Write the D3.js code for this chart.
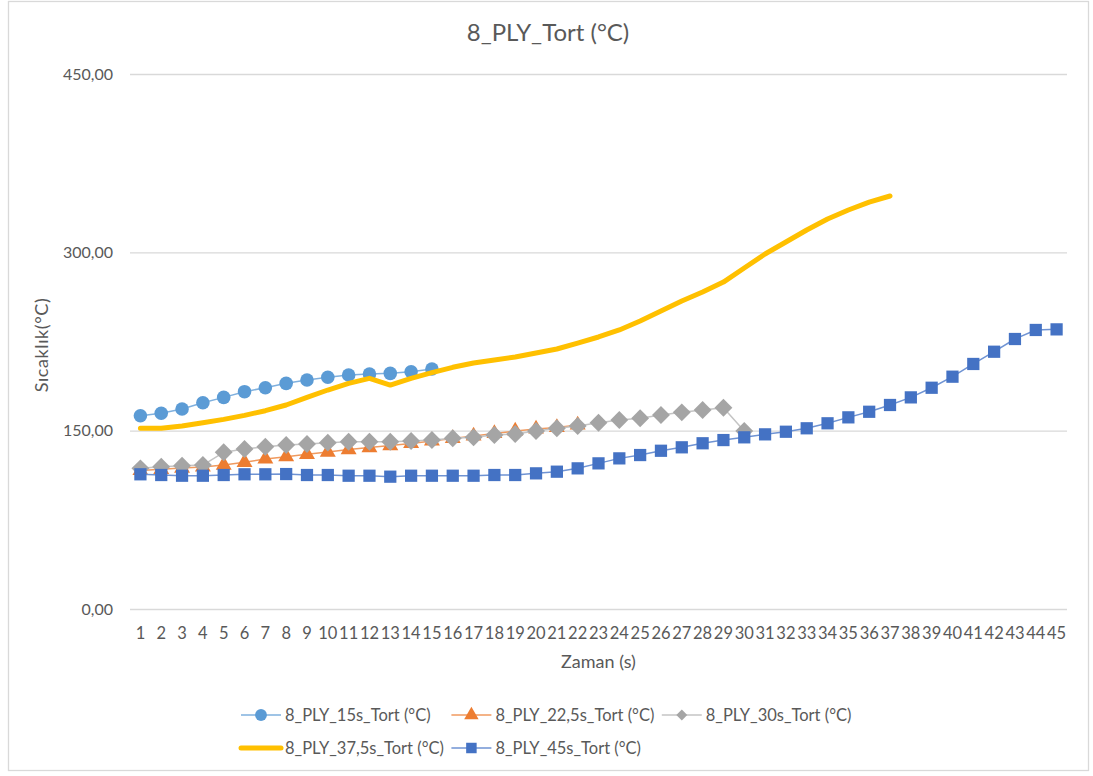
<!DOCTYPE html>
<meta charset="utf-8">
<style>
body { margin: 0; background: #fff; }
text { font-family: Lato, "Liberation Sans", sans-serif; fill: #595959; }
.grid line { stroke: #d9d9d9; stroke-width: 1.3px; }
</style>
<body>
<script src="https://d3js.org/d3.v7.min.js"></script>
<script>

// category labels on the x axis (time, s)
var categories = [1,2,3,4,5,6,7,8,9,10,11,12,13,14,15,16,17,18,19,20,21,22,23,24,25,
  26,27,28,29,30,31,32,33,34,35,36,37,38,39,40,41,42,43,44,45];
var yTicks = [0, 150, 300, 450];

// series values
var s15 = [162.6,164.6,168.2,173.5,178.0,182.8,186.1,189.8,192.6,194.9,196.8,197.6,198.2,199.6,201.9];
var s22 = [116.5,117.5,118.5,119.5,121.1,123.4,126.2,128.1,130.1,132.0,134.1,135.8,137.5,139.2,141.3,
  143.4,145.5,147.6,149.7,151.4,152.7,154.8];
var s30 = [118.3,119.7,120.5,121.1,131.8,134.6,136.5,137.9,138.8,139.9,140.7,140.7,140.7,141.3,142.1,
  143.6,144.4,146.3,147.2,149.7,152.0,153.9,156.7,159.0,160.4,163.2,165.4,167.4,169.3,149.7];
var s37 = [152.0,152.0,153.9,156.7,159.5,162.9,166.8,171.6,178.0,184.2,189.8,194.0,188.4,194.0,198.8,
  203.3,206.9,209.4,212.0,215.3,218.7,223.7,228.8,234.7,242.2,250.6,259.0,266.6,275.0,286.8,
  298.6,308.7,318.8,328.0,335.6,342.3,347.4];
var s45 = [113.3,112.7,112.1,112.1,112.7,113.3,113.3,113.5,112.7,112.7,112.1,112.1,111.3,112.1,112.1,
  112.1,112.1,112.7,112.7,114.1,115.5,118.3,122.5,126.7,129.5,133.1,136.0,139.4,142.1,144.4,
  146.9,149.1,152.0,156.2,161.2,165.9,171.6,178.0,186.1,195.4,206.1,216.4,227.1,234.7,235.2];

var seriesNames = ["8_PLY_15s_Tort (°C)", "8_PLY_22,5s_Tort (°C)", "8_PLY_30s_Tort (°C)",
  "8_PLY_37,5s_Tort (°C)", "8_PLY_45s_Tort (°C)"];

var series = [
  {name: seriesNames[0], values: s15, color: "#5b9bd5", line: "#7fb0de", width: 1.5, marker: "circle"},
  {name: seriesNames[1], values: s22, color: "#ed7d31", line: "#f09a5f", width: 1.5, marker: "triangle"},
  {name: seriesNames[2], values: s30, color: "#a5a5a5", line: "#c4c4c4", width: 1.5, marker: "diamond"},
  {name: seriesNames[3], values: s37, color: "#ffc000", line: "#ffc000", width: 5, marker: null},
  {name: seriesNames[4], values: s45, color: "#4472c4", line: "#6f93d3", width: 1.5, marker: "square"}
];

var W = 1093, H = 776;
var plot = {left: 130, right: 1067, top: 74, bottom: 609};

var svg = d3.select("body").append("svg")
    .attr("width", W)
    .attr("height", H);

// chart border
svg.append("rect")
    .attr("x", 8.5).attr("y", 1.5)
    .attr("width", 1080).attr("height", 769)
    .attr("fill", "#fff")
    .attr("stroke", "#d9d9d9")
    .attr("stroke-width", 1.3);

var x = d3.scaleBand().domain(categories).range([plot.left, plot.right]);
var y = d3.scaleLinear().domain([0, 450]).range([plot.bottom, plot.top]);
var cx = function(i) { return x(categories[i]) + x.bandwidth() / 2; };

var fmt = d3.formatLocale({decimal: ",", thousands: ".", grouping: [3], currency: ["", ""]}).format(".2f");

// y axis + gridlines
var gy = svg.append("g")
    .attr("class", "grid")
    .attr("transform", "translate(" + plot.left + ",0)")
    .call(d3.axisLeft(y).tickValues(yTicks).tickFormat(fmt)
      .tickSize(-(plot.right - plot.left)).tickPadding(17));
gy.select(".domain").remove();
gy.selectAll("text").attr("font-size", 16).style("fill", "#595959");

// x axis
var gx = svg.append("g")
    .attr("transform", "translate(0," + plot.bottom + ")")
    .call(d3.axisBottom(x).tickSize(0).tickPadding(18));
gx.select(".domain").remove();
gx.selectAll("text").attr("font-size", 16.5).style("fill", "#595959");

// titles
svg.append("text")
    .attr("x", 548).attr("y", 41)
    .attr("text-anchor", "middle")
    .attr("font-size", 24)
    .text("8_PLY_Tort (°C)");

svg.append("text")
    .attr("x", (plot.left + plot.right) / 2).attr("y", 668)
    .attr("text-anchor", "middle")
    .attr("font-size", 18)
    .text("Zaman (s)");

svg.append("text")
    .attr("transform", "translate(48,345) rotate(-90)")
    .attr("text-anchor", "middle")
    .attr("font-size", 18)
    .attr("letter-spacing", 0.6)
    .text("Sıcaklık(°C)");

function symbolPath(type, size) {
  if (type === "circle") return d3.symbol(d3.symbolCircle, size)();
  if (type === "triangle") return d3.symbol(d3.symbolTriangle, size)();
  if (type === "square") return d3.symbol(d3.symbolSquare, size)();
  if (type === "diamond") return d3.symbol(d3.symbolSquare, size)();
  return null;
}

var line = d3.line()
    .x(function(d, i) { return cx(i); })
    .y(function(d) { return y(d); });

// series
series.forEach(function(s) {
  var g = svg.append("g");
  g.append("path")
      .datum(s.values)
      .attr("fill", "none")
      .attr("stroke", s.line)
      .attr("stroke-width", s.width)
      .attr("stroke-linejoin", "round")
      .attr("stroke-linecap", "round")
      .attr("d", line);
  if (s.marker) {
    var size = {circle: 145, triangle: 110, square: 150, diamond: 160}[s.marker];
    g.selectAll(".m")
        .data(s.values)
      .enter().append("path")
        .attr("transform", function(d, i) {
          return "translate(" + cx(i) + "," + y(d) + ")" + (s.marker === "diamond" ? " rotate(45)" : "");
        })
        .attr("d", symbolPath(s.marker, size))
        .attr("fill", s.color);
  }
});

// legend, laid out in columns like the original
var legCols = 3, colW = 210.4, legX = 241, legY = [715, 748];
series.forEach(function(s, i) {
  var col = i % legCols, row = Math.floor(i / legCols);
  var g = svg.append("g")
      .attr("transform", "translate(" + (legX + col * colW) + "," + legY[row] + ")");
  g.append("line")
      .attr("x1", 0).attr("x2", 40)
      .attr("stroke", s.line)
      .attr("stroke-width", s.width)
      .attr("stroke-linecap", s.marker ? "butt" : "round");
  if (s.marker) {
    var size = {circle: 110, triangle: 90, square: 110, diamond: 60}[s.marker];
    g.append("path")
        .attr("transform", "translate(20,0)" + (s.marker === "diamond" ? " rotate(45)" : ""))
        .attr("d", symbolPath(s.marker, size))
        .attr("fill", s.color);
  }
  g.append("text")
      .attr("x", 44).attr("y", 0)
      .attr("dy", "0.35em")
      .attr("font-size", 16.5)
      .text(s.name);
});

</script>
</body>
